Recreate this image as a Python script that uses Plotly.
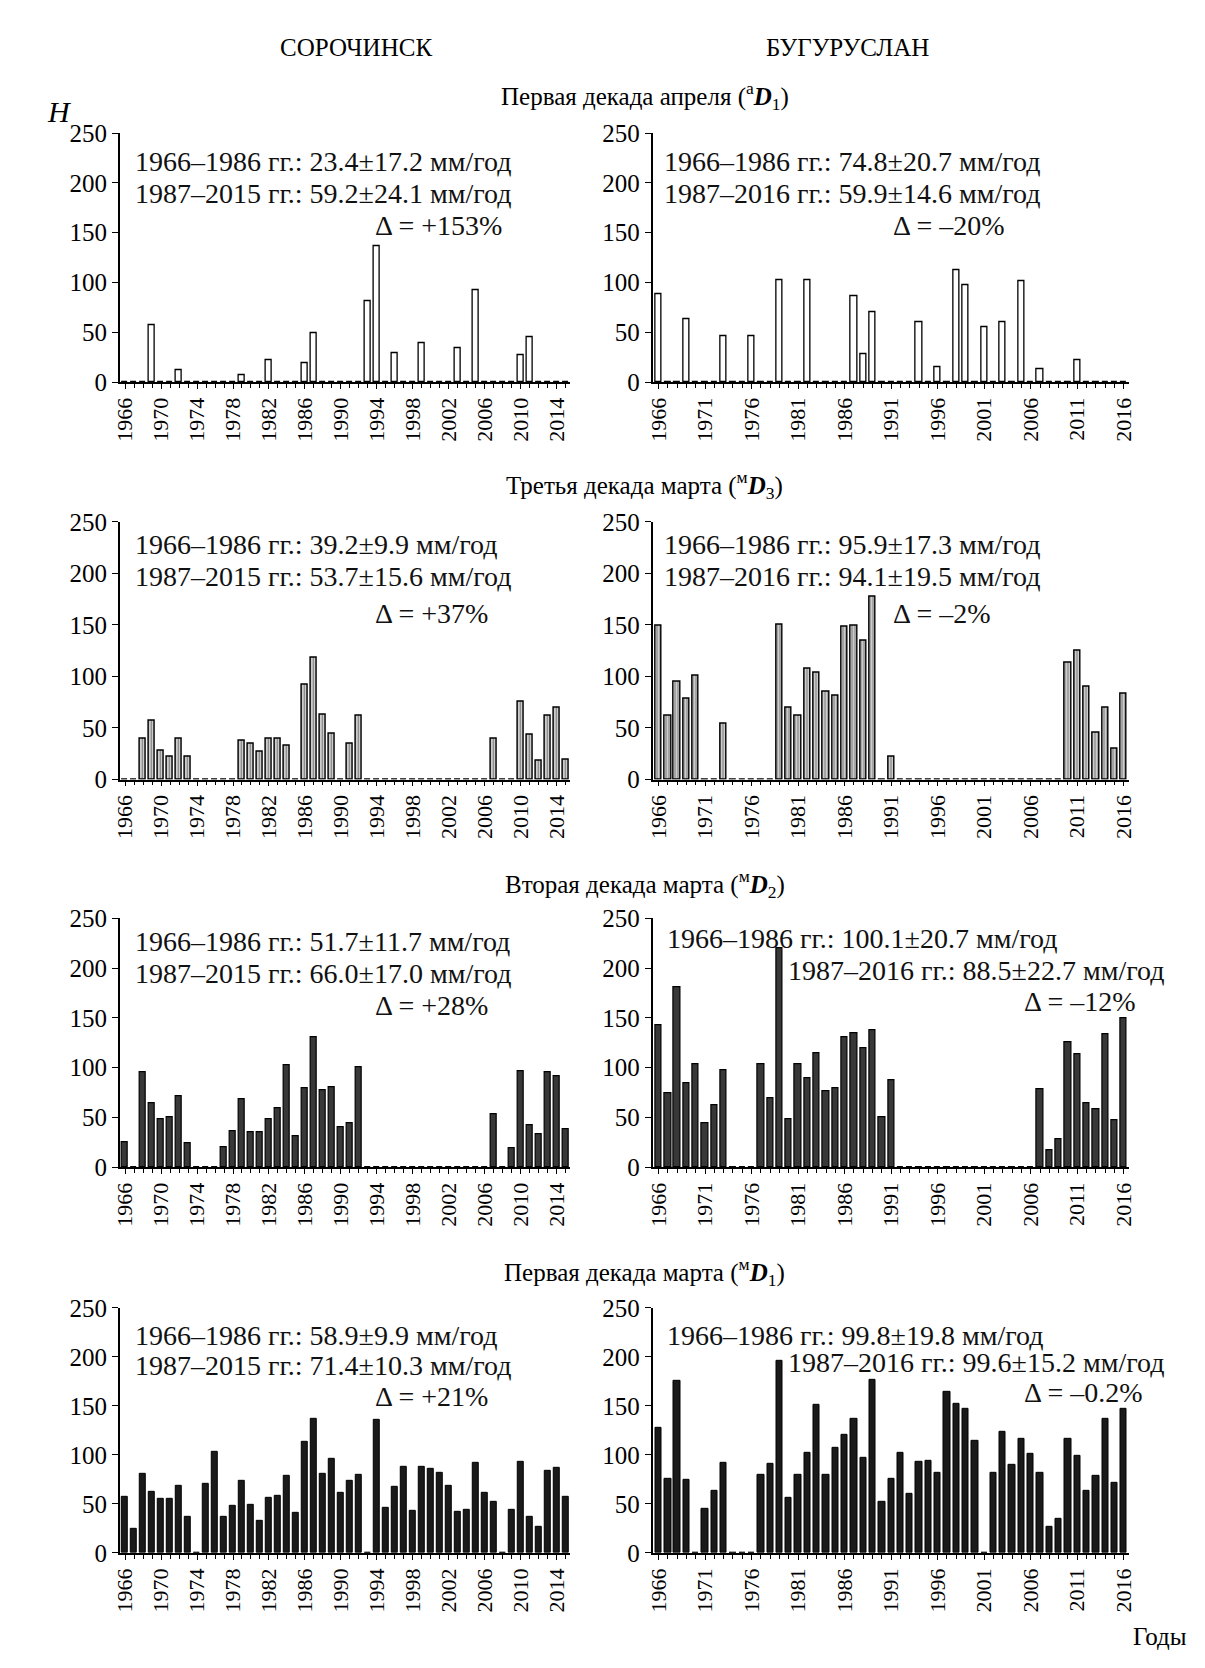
import plotly.graph_objects as go
from plotly.subplots import make_subplots

W, H = 1205, 1668
FONT = "Liberation Serif"

# ---------------- data ----------------
years_left = list(range(1966, 2016))   # Сорочинск
years_right = list(range(1966, 2017))  # Бугуруслан

# Первая декада апреля
sor_aD1 = [0, 0, 0, 57, 0, 0, 12, 0, 0, 0,
           0, 0, 0, 7, 0, 0, 22, 0, 0, 0,
           19, 49, 0, 0, 0, 0, 0, 81, 137, 0,
           29, 0, 0, 39, 0, 0, 0, 34, 0, 92,
           0, 0, 0, 0, 27, 45, 0, 0, 0, 0]
bug_aD1 = [88, 0, 0, 63, 0, 0, 0, 46, 0, 0,
           46, 0, 0, 102, 0, 0, 102, 0, 0, 0,
           0, 86, 28, 70, 0, 0, 0, 0, 60, 0,
           15, 0, 112, 97, 0, 55, 0, 60, 0, 101,
           0, 13, 0, 0, 0, 22, 0, 0, 0, 0, 0]
# Третья декада марта
sor_mD3 = [0, 0, 40, 57, 28, 22, 40, 22, 0, 0,
           0, 0, 0, 38, 35, 27, 40, 40, 33, 0,
           92, 118, 63, 44, 0, 35, 62, 0, 0, 0,
           0, 0, 0, 0, 0, 0, 0, 0, 0, 0,
           0, 40, 0, 0, 75, 43, 18, 62, 70, 19]
bug_mD3 = [149, 62, 95, 78, 101, 0, 0, 54, 0, 0,
           0, 0, 0, 150, 70, 62, 107, 104, 85, 81,
           148, 149, 135, 177, 0, 22, 0, 0, 0, 0,
           0, 0, 0, 0, 0, 0, 0, 0, 0, 0,
           0, 0, 0, 0, 113, 125, 90, 45, 70, 30, 83]
# Вторая декада марта
sor_mD2 = [25, 0, 95, 64, 48, 50, 71, 24, 0, 0,
           0, 20, 36, 68, 35, 35, 48, 59, 102, 31,
           79, 130, 77, 80, 40, 44, 100, 0, 0, 0,
           0, 0, 0, 0, 0, 0, 0, 0, 0, 0,
           0, 53, 0, 19, 96, 42, 33, 95, 91, 38]
bug_mD2 = [143, 74, 181, 84, 103, 44, 62, 97, 0, 0,
           0, 103, 69, 220, 48, 103, 89, 114, 76, 79,
           130, 134, 119, 138, 50, 87, 0, 0, 0, 0,
           0, 0, 0, 0, 0, 0, 0, 0, 0, 0,
           0, 78, 17, 28, 125, 113, 64, 58, 133, 47, 150]
# Первая декада марта
sor_mD1 = [57, 24, 81, 62, 55, 55, 68, 37, 0, 70,
           103, 37, 48, 73, 49, 33, 56, 58, 79, 41,
           113, 137, 81, 96, 61, 73, 80, 0, 136, 46,
           67, 88, 43, 88, 86, 82, 68, 42, 44, 92,
           61, 52, 0, 44, 93, 37, 27, 84, 87, 57]
bug_mD1 = [128, 76, 175, 74, 0, 45, 63, 92, 0, 0,
           0, 80, 91, 196, 56, 80, 102, 151, 80, 107,
           120, 137, 97, 177, 52, 76, 102, 60, 93, 94,
           82, 164, 152, 147, 114, 0, 82, 123, 90, 116,
           101, 82, 27, 35, 116, 99, 63, 79, 137, 71, 147]

stations = ["СОРОЧИНСК", "БУГУРУСЛАН"]
row_titles = ["Первая декада апреля (<sup>а</sup><b><i>D</i></b><sub>1</sub>)",
              "Третья декада марта (<sup>м</sup><b><i>D</i></b><sub>3</sub>)",
              "Вторая декада марта (<sup>м</sup><b><i>D</i></b><sub>2</sub>)",
              "Первая декада марта (<sup>м</sup><b><i>D</i></b><sub>1</sub>)"]
stats = [
    [["1966–1986 гг.: 23.4±17.2 мм/год", "1987–2015 гг.: 59.2±24.1 мм/год", "Δ = +153%"],
     ["1966–1986 гг.: 74.8±20.7 мм/год", "1987–2016 гг.: 59.9±14.6 мм/год", "Δ = –20%"]],
    [["1966–1986 гг.: 39.2±9.9 мм/год", "1987–2015 гг.: 53.7±15.6 мм/год", "Δ = +37%"],
     ["1966–1986 гг.: 95.9±17.3 мм/год", "1987–2016 гг.: 94.1±19.5 мм/год", "Δ = –2%"]],
    [["1966–1986 гг.: 51.7±11.7 мм/год", "1987–2015 гг.: 66.0±17.0 мм/год", "Δ = +28%"],
     ["1966–1986 гг.: 100.1±20.7 мм/год", "1987–2016 гг.: 88.5±22.7 мм/год", "Δ = –12%"]],
    [["1966–1986 гг.: 58.9±9.9 мм/год", "1987–2015 гг.: 71.4±10.3 мм/год", "Δ = +21%"],
     ["1966–1986 гг.: 99.8±19.8 мм/год", "1987–2016 гг.: 99.6±15.2 мм/год", "Δ = –0.2%"]],
]
left_ticks = [1966, 1970, 1974, 1978, 1982, 1986, 1990, 1994, 1998, 2002, 2006, 2010, 2014]
right_ticks = [1966, 1971, 1976, 1981, 1986, 1991, 1996, 2001, 2006, 2011, 2016]
y_ticks = [0, 50, 100, 150, 200, 250]

series = [[sor_aD1, bug_aD1], [sor_mD3, bug_mD3], [sor_mD2, bug_mD2], [sor_mD1, bug_mD1]]

# ---------------- layout geometry (px) ----------------
col_x = [(106, 562), (645, 1127)]
row_y = [(114, 367), (509, 771), (912, 1165), (1308, 1557)]
x_ranges = [[1965.4, 2015.55], [1965.35, 2016.55]]
title_y = [76, 472, 877, 1272]
# stats text positions: (x_line1_px, y1, x_line2_px, y2, x_delta_px, y_delta)
text_pos = [
    [(119, 222, 119, 189, 362, 157), (655, 222, 655, 189, 886, 157)],
    [(119, 228, 119, 197, 362, 161), (655, 228, 655, 197, 886, 161)],
    [(119, 227, 119, 194, 362, 162), (658, 230, 780, 198, 1019, 166)],
    [(119, 222, 119, 191, 362, 159), (658, 222, 780, 194, 1019, 164)],
]


def px_x(p):
    return p / W


def px_y(p):
    return 1 - p / H


fig = make_subplots(rows=4, cols=2)

styles = ["white", "hatch", "dark", "black"]

for r in range(4):
    for c in range(2):
        yrs = years_left if c == 0 else years_right
        vals = series[r][c]
        st = styles[r]
        if st == "white":
            marker = dict(color="white", line=dict(color="black", width=1.3))
        elif st == "hatch":
            marker = dict(color="#d0d0d0", line=dict(color="black", width=1.4),
                          pattern=dict(shape="|", fgcolor="#111", bgcolor="#e6e6e6",
                                       size=3, solidity=0.5))
        elif st == "dark":
            marker = dict(color="#383838", line=dict(color="black", width=1.2))
        else:
            marker = dict(color="#1a1a1a", line=dict(color="black", width=1.0))
        fig.add_trace(go.Bar(x=yrs, y=vals, width=0.68, marker=marker,
                             showlegend=False, hoverinfo="skip"),
                      row=r + 1, col=c + 1)

annotations = []
for r in range(4):
    for c in range(2):
        k = r * 2 + c + 1
        xa = "xaxis" if k == 1 else f"xaxis{k}"
        ya = "yaxis" if k == 1 else f"yaxis{k}"
        yref = "y" if k == 1 else f"y{k}"
        x0, x1 = col_x[c]
        ytop, ybot = row_y[r]
        fig.layout[xa].update(
            domain=[px_x(x0), px_x(x1)], range=x_ranges[c],
            tickmode="array", tickvals=left_ticks if c == 0 else right_ticks,
            ticktext=[str(t) for t in (left_ticks if c == 0 else right_ticks)],
            tickangle=-90, ticks="outside", ticklen=5, tickwidth=1.2, tickcolor="black",
            minor=dict(dtick=1, tick0=1966, ticks="outside", ticklen=4, tickwidth=1, tickcolor="black"),
            showline=True, linecolor="black", linewidth=1.6, showgrid=False, zeroline=False,
            tickfont=dict(family=FONT, size=22, color="black"), fixedrange=True)
        fig.layout[ya].update(
            domain=[px_y(ybot), px_y(ytop)], range=[0, 250],
            tickmode="array", tickvals=y_ticks, ticks="outside", ticklen=6, tickwidth=1.2,
            tickcolor="black", showline=True, linecolor="black", linewidth=1.6,
            showgrid=False, zeroline=False,
            tickfont=dict(family=FONT, size=25, color="black"), fixedrange=True)
        l1, l2, d = stats[r][c]
        xa1, ya1, xa2, ya2, xd, yd = text_pos[r][c]
        for txt, xx, yy in [(l1, xa1, ya1), (l2, xa2, ya2), (d, xd, yd)]:
            annotations.append(dict(text=txt, x=px_x(xx), xref="paper", y=yy, yref=yref,
                                    xanchor="left", yanchor="middle", showarrow=False,
                                    font=dict(family=FONT, size=28, color="#111")))
    annotations.append(dict(text=row_titles[r], x=px_x(637), xref="paper", y=px_y(title_y[r]),
                            yref="paper", xanchor="center", yanchor="middle", showarrow=False,
                            font=dict(family=FONT, size=25, color="black")))

annotations.append(dict(text=stations[0], x=px_x(345), xref="paper", y=px_y(27), yref="paper",
                        xanchor="center", yanchor="middle", showarrow=False,
                        font=dict(family=FONT, size=25, color="black")))
annotations.append(dict(text=stations[1], x=px_x(842), xref="paper", y=px_y(27), yref="paper",
                        xanchor="center", yanchor="middle", showarrow=False,
                        font=dict(family=FONT, size=25, color="black")))
annotations.append(dict(text="<i>H</i>", x=px_x(45), xref="paper", y=px_y(92), yref="paper",
                        xanchor="center", yanchor="middle", showarrow=False,
                        font=dict(family=FONT, size=30, color="black")))
annotations.append(dict(text="Годы", x=px_x(1158), xref="paper", y=px_y(1642), yref="paper",
                        xanchor="center", yanchor="middle", showarrow=False,
                        font=dict(family=FONT, size=25, color="black")))

fig.update_layout(width=W, height=H, margin=dict(l=0, r=0, t=0, b=0),
                  paper_bgcolor="white", plot_bgcolor="white", bargap=0,
                  annotations=annotations, font=dict(family=FONT, color="black"))

fig.write_html("out.html")
